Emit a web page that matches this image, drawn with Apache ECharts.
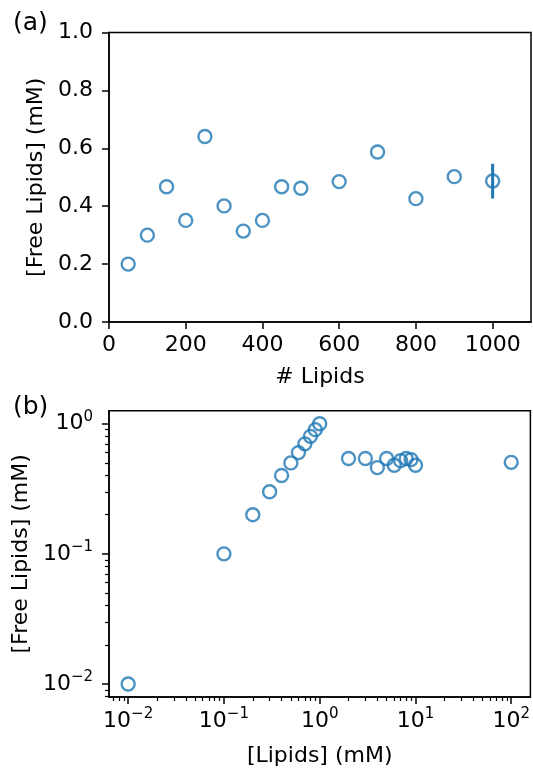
<!DOCTYPE html>
<html>
<head>
<meta charset="utf-8">
<script src="https://cdn.jsdelivr.net/npm/echarts@6/dist/echarts.min.js"></script>
<style>
html, body { margin: 0; padding: 0; background: #fff; }
#chart { width: 533px; height: 768px; }
</style>
</head>
<body>
<div id="chart"></div>
<script>
// panel (a): free lipids vs number of lipids
const lipidCounts = [50, 100, 150, 200, 250, 300, 350, 400, 450, 500, 600, 700, 800, 900, 1000]
const freeLipidsA = [0.20, 0.30, 0.467, 0.351, 0.641, 0.401, 0.314, 0.351, 0.467, 0.462, 0.485, 0.587, 0.426, 0.502, 0.487]
// error bar on the last point
const errCount = 1000
const errLow = 0.427
const errHigh = 0.547
const xTicksA = [0, 200, 400, 600, 800, 1000]
const yTicksA = [0, 0.2, 0.4, 0.6, 0.8, 1.0]

// panel (b): free lipids vs lipid concentration (log-log)
const lipidConc = [0.01, 0.1, 0.2, 0.3, 0.4, 0.5, 0.6, 0.7, 0.8, 0.9, 1, 2, 3, 4, 5, 6, 7, 8, 9, 10, 100]
const freeLipidsB = [0.01, 0.1, 0.2, 0.3, 0.4, 0.5, 0.6, 0.7, 0.8, 0.9, 1.0, 0.54, 0.54, 0.46, 0.54, 0.48, 0.52, 0.54, 0.53, 0.48, 0.505]
const xTicksB = [0.01, 0.1, 1, 10, 100]
const yTicksB = [0.01, 0.1, 1]

const BLUE = '#1f77b4'
const FONT = 'DejaVu Sans'
const FS = 22

const xMinB = Math.pow(10, -2.2), xMaxB = Math.pow(10, 2.2)
const yMinB = Math.pow(10, -2.1), yMaxB = Math.pow(10, 0.1)

const minorTicks = (lo, hi) => {
  const out = []
  for (let e = -3; e <= 2; e++) {
    for (let k = 2; k <= 9; k++) {
      const v = k * Math.pow(10, e)
      if (v >= lo && v <= hi) out.push(v)
    }
  }
  return out
}

const powLabel = (v) => {
  const e = Math.round(Math.log10(v))
  return '{b|10}{s|' + String(e).replace('-', '\u2212') + '}'
}
const powRich = {
  b: { fontSize: FS, fontFamily: FONT, color: '#000', lineHeight: 28 },
  s: { fontSize: 15, fontFamily: FONT, color: '#000', lineHeight: 14, verticalAlign: 'top' }
}

const axisLine = { show: true, lineStyle: { color: '#000', width: 1.5 } }
const majorTick = (vals) => ({ show: true, inside: false, length: 7, lineStyle: { color: '#000', width: 1.5 }, customValues: vals })
const minorTick = (vals) => ({ show: true, inside: false, length: 4, lineStyle: { color: '#000', width: 1.2 }, customValues: vals })
const nameStyle = { fontSize: FS, fontFamily: FONT, color: '#000' }
const titleStyle = { fontSize: 25, fontWeight: 'normal', fontFamily: FONT, color: '#000' }
const markStyle = { color: 'rgba(0,0,0,0)', borderColor: BLUE, borderWidth: 2.4 }

const chart = echarts.init(document.getElementById('chart'), null, { renderer: 'canvas' })

const option = {
  backgroundColor: '#fff',
  animation: false,
  title: [
    { text: '(a)', left: 13, top: 11, padding: 0, textStyle: titleStyle },
    { text: '(b)', left: 13, top: 395, padding: 0, textStyle: titleStyle }
  ],
  grid: [
    { left: 109, top: 32.5, right: 2, height: 289.5, show: true, borderColor: '#000', borderWidth: 1.5, backgroundColor: 'transparent' },
    { left: 109, top: 410.7, right: 2, height: 290, show: true, borderColor: '#000', borderWidth: 1.5, backgroundColor: 'transparent' }
  ],
  xAxis: [
    {
      gridIndex: 0, type: 'value', min: 0, max: 1100,
      name: '# Lipids', nameLocation: 'middle', nameGap: 44, nameTextStyle: nameStyle,
      axisLine: axisLine, axisTick: majorTick(xTicksA), splitLine: { show: false },
      axisLabel: { customValues: xTicksA, margin: 12, fontSize: FS, fontFamily: FONT, color: '#000', formatter: (v) => String(v) }
    },
    {
      gridIndex: 1, type: 'log', logBase: 10, min: xMinB, max: xMaxB,
      name: '[Lipids] (mM)', nameLocation: 'middle', nameGap: 48, nameTextStyle: nameStyle,
      axisLine: axisLine, axisTick: majorTick(xTicksB), splitLine: { show: false },
      axisLabel: { customValues: xTicksB, margin: 10, formatter: powLabel, rich: powRich }
    },
    {
      gridIndex: 1, type: 'log', logBase: 10, min: xMinB, max: xMaxB, position: 'bottom',
      axisLine: { show: false }, axisTick: minorTick(minorTicks(xMinB, xMaxB)),
      axisLabel: { show: false }, splitLine: { show: false }
    }
  ],
  yAxis: [
    {
      gridIndex: 0, type: 'value', min: 0, max: 1,
      name: '[Free Lipids] (mM)', nameLocation: 'middle', nameGap: 62, nameTextStyle: nameStyle,
      axisLine: axisLine, axisTick: majorTick(yTicksA), splitLine: { show: false },
      axisLabel: { customValues: yTicksA, margin: 16, fontSize: FS, fontFamily: FONT, color: '#000', formatter: (v) => v.toFixed(1) }
    },
    {
      gridIndex: 1, type: 'log', logBase: 10, min: yMinB, max: yMaxB,
      name: '[Free Lipids] (mM)', nameLocation: 'middle', nameGap: 62, nameTextStyle: nameStyle,
      axisLine: axisLine, axisTick: majorTick(yTicksB), splitLine: { show: false },
      axisLabel: { customValues: yTicksB, margin: 16, formatter: powLabel, rich: powRich }
    },
    {
      gridIndex: 1, type: 'log', logBase: 10, min: yMinB, max: yMaxB, position: 'left',
      axisLine: { show: false }, axisTick: minorTick(minorTicks(yMinB, yMaxB)),
      axisLabel: { show: false }, splitLine: { show: false }
    }
  ],
  series: [
    {
      type: 'line', xAxisIndex: 0, yAxisIndex: 0, symbol: 'none',
      lineStyle: { color: BLUE, width: 3 },
      data: [[errCount, errLow], [errCount, errHigh]]
    },
    {
      type: 'scatter', xAxisIndex: 0, yAxisIndex: 0, symbol: 'circle', symbolSize: 13,
      itemStyle: markStyle,
      data: lipidCounts.map((x, i) => [x, freeLipidsA[i]])
    },
    {
      type: 'scatter', xAxisIndex: 1, yAxisIndex: 1, symbol: 'circle', symbolSize: 13,
      itemStyle: markStyle,
      data: lipidConc.map((x, i) => [x, freeLipidsB[i]])
    }
  ]
}

chart.setOption(option)
</script>
</body>
</html>
